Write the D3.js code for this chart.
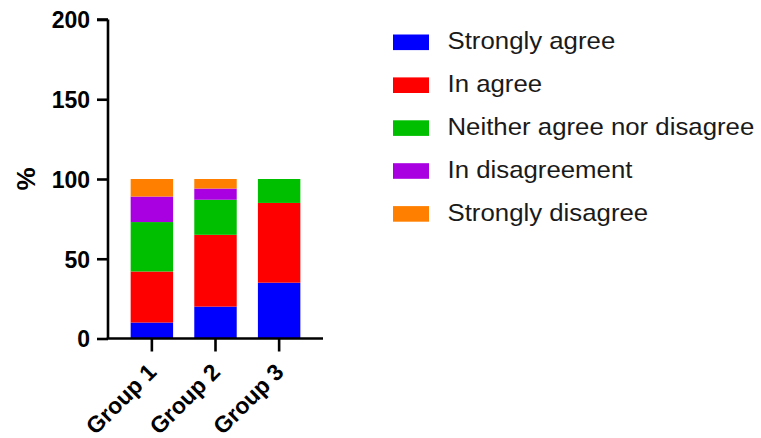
<!DOCTYPE html>
<html><head><meta charset="utf-8">
<script src="https://cdn.jsdelivr.net/npm/d3@7"></script>
<style>
html,body{margin:0;padding:0;background:#fff;}
svg{display:block;font-family:"Liberation Sans",Arial,sans-serif;}
</style></head>
<body>
<svg id="c" width="761" height="438"></svg>
<script>
const groups = ["Group 1", "Group 2", "Group 3"];
const seriesNames = ["Strongly agree", "In agree", "Neither agree nor disagree", "In disagreement", "Strongly disagree"];
const seriesColors = ["#0000FF", "#FF0000", "#00BF00", "#A800E0", "#FF8000"];
const stronglyAgree = [10, 20, 35];
const inAgree = [32, 45, 50];
const neither = [31, 22, 15];
const inDisagreement = [16, 7, 0];
const stronglyDisagree = [11, 6, 0];
const yTicks = [0, 50, 100, 150, 200];

const seriesValues = [stronglyAgree, inAgree, neither, inDisagreement, stronglyDisagree];
const table = groups.map((g, i) => {
  const row = {group: g};
  seriesNames.forEach((s, j) => row[s] = seriesValues[j][i]);
  return row;
});
const stacked = d3.stack().keys(seriesNames)(table);

const svg = d3.select("#c");
const x = d3.scaleBand().domain(groups).range([108, 323]).paddingInner(0.333).paddingOuter(0.356);
const y = d3.scaleLinear().domain([0, 200]).range([338.5, 19.5]);

// bars
svg.append("g").selectAll("g").data(stacked).join("g")
  .attr("fill", (d, i) => seriesColors[i])
  .selectAll("rect").data(d => d).join("rect")
  .attr("x", d => x(d.data.group))
  .attr("width", x.bandwidth())
  .attr("y", d => y(d[1]))
  .attr("height", d => y(d[0]) - y(d[1]));

// y axis
const yAxis = svg.append("g").attr("transform", "translate(108,0)")
  .call(d3.axisLeft(y).tickValues(yTicks).tickSize(11).tickPadding(7).tickFormat(d3.format("d")));
yAxis.selectAll("path,line").attr("stroke", "#000").attr("stroke-width", 2.6);
yAxis.select(".domain").attr("d", `M0,${y(200)}H-11M0,${y(200)}V${y(0)}`);
yAxis.selectAll("text").attr("font-size", 23).attr("font-weight", "bold").attr("fill", "#000")
  .attr("font-family", "Liberation Sans, Arial, sans-serif")
  .attr("dy", "0.36em");

// x axis
const xAxis = svg.append("g").attr("transform", `translate(0,${y(0)})`)
  .call(d3.axisBottom(x).tickSize(13).tickSizeOuter(0));
xAxis.selectAll("path,line").attr("stroke", "#000").attr("stroke-width", 2.6);
xAxis.select(".domain").attr("d", `M106.7,0H323`);
xAxis.selectAll("text").remove();
xAxis.selectAll(".tick").append("text")
  .attr("transform", "translate(6,35) rotate(-45)")
  .attr("text-anchor", "end")
  .attr("font-size", 23).attr("font-weight", "bold").attr("fill", "#000")
  .attr("font-family", "Liberation Sans, Arial, sans-serif")
  .text(d => d);

// y label
svg.append("text")
  .attr("transform", `translate(34.5,${y(100)}) rotate(-90)`)
  .attr("text-anchor", "middle")
  .attr("font-size", 26).attr("font-weight", "bold").attr("fill", "#000")
  .text("%");

// legend
const legend = svg.append("g").selectAll("g").data(seriesNames).join("g")
  .attr("transform", (d, i) => `translate(393,${42.3 + i * 42.9})`);
legend.append("rect").attr("x", 0).attr("y", -7.8).attr("width", 36).attr("height", 15.6)
  .attr("fill", (d, i) => seriesColors[i]);
legend.append("text")
  .attr("transform", "translate(54.5,6.8) scale(1.075,1)")
  .attr("font-size", 24).attr("fill", "#1a1a1a")
  .text(d => d);
</script>
</body></html>
